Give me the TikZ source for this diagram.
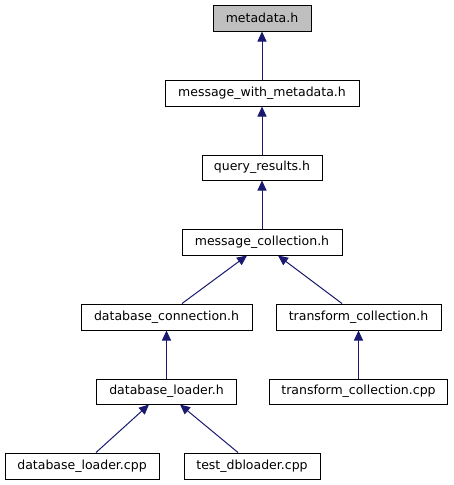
\documentclass[tikz,border=0pt]{standalone}
\usepackage{fontspec}
\setmainfont{DejaVu Sans}
\usetikzlibrary{arrows.meta,calc}
\definecolor{edgeblue}{HTML}{191970}
\definecolor{rootgray}{HTML}{BFBFBF}
\tikzset{
  file/.style={draw=black, line width=1pt, fill=white, inner sep=0pt, minimum height=26pt, font=\fontsize{12.5}{14}\selectfont},
  edge/.style={draw=edgeblue, line width=1pt, -{Triangle[length=10pt,width=9pt]}}
}
\begin{document}
\begin{tikzpicture}[x=1pt,y=-1pt]
\useasboundingbox (0,0) rectangle (453,485);
\node[file, fill=rootgray, minimum width=98pt] (md) at (262,18) {metadata.h};
\node[file, minimum width=194pt] (mwm) at (262,93) {message\_with\_metadata.h};
\node[file, minimum width=120pt, minimum height=25pt] (qr) at (262,167.5) {query\_results.h};
\node[file, minimum width=160pt] (mc) at (262,242) {message\_collection.h};
\node[file, minimum width=171pt] (dc) at (166.5,317) {database\_connection.h};
\node[file, minimum width=165pt] (tc) at (358.5,317) {transform\_collection.h};
\node[file, minimum width=140pt, minimum height=25pt] (dl) at (166.5,391.5) {database\_loader.h};
\node[file, minimum width=178pt, minimum height=25pt] (tcc) at (358.5,391.5) {transform\_collection.cpp};
\node[file, minimum width=154pt] (dlc) at (82,466) {database\_loader.cpp};
\node[file, minimum width=136pt] (tdb) at (252,466) {test\_dbloader.cpp};
\draw[edge] (mwm.north) -- (md.south);
\draw[edge] (qr.north) -- (mwm.south);
\draw[edge] (mc.north) -- (qr.south);
\draw[edge] ($(dc.north)+(15.5,0)$) -- ($(mc.south)+(-15,0)$);
\draw[edge] ($(tc.north)+(-16.5,0)$) -- ($(mc.south)+(16,0)$);
\draw[edge] (tcc.north) -- (tc.south);
\draw[edge] (dl.north) -- (dc.south);
\draw[edge] ($(dlc.north)+(14,0)$) -- ($(dl.south)+(-17.5,0)$);
\draw[edge] ($(tdb.north)+(-14,0)$) -- ($(dl.south)+(13.5,0)$);
\end{tikzpicture}
\end{document}
